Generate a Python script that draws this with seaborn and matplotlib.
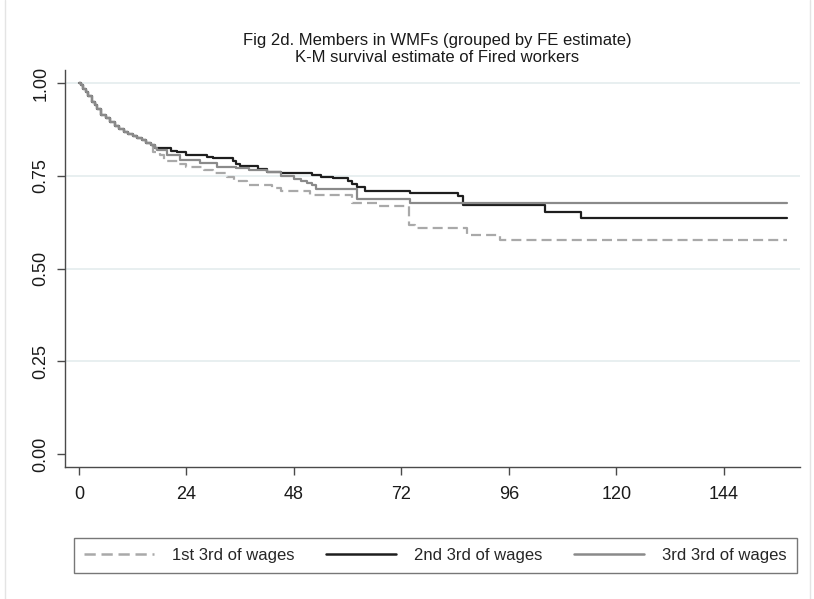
import numpy as np
import pandas as pd
import matplotlib
matplotlib.use("Agg")
import matplotlib.pyplot as plt
import seaborn as sns
from matplotlib.lines import Line2D

# Kaplan-Meier step estimates (months since firing, survival probability)
early_t = [0, 0.5, 1, 1.5, 2, 3, 3.5, 4, 5, 6, 7, 8, 9, 10, 11, 12, 13, 14, 15, 16]
early_s = [1.0, 0.995, 0.985, 0.975, 0.965, 0.95, 0.94, 0.93, 0.915, 0.905,
           0.895, 0.885, 0.875, 0.868, 0.862, 0.857, 0.852, 0.845, 0.838, 0.832]

t_first = early_t + [16.5, 18, 19, 22, 24, 28, 30, 33, 34.5, 37.5, 43, 45, 51.5,
                     61, 67, 73.7, 75, 86.6, 94, 158]
s_first = early_s + [0.815, 0.805, 0.79, 0.782, 0.774, 0.765, 0.757, 0.747, 0.735,
                     0.725, 0.718, 0.71, 0.698, 0.677, 0.668, 0.617, 0.609, 0.59,
                     0.577, 0.577]

t_second = early_t + [17, 20.5, 21.8, 24, 28.6, 30, 34.4, 35, 36, 40, 42, 45, 52,
                      54, 56.7, 60, 61, 62, 63.8, 74, 84.6, 85.7, 104, 112, 158]
s_second = early_s + [0.826, 0.818, 0.815, 0.806, 0.80, 0.797, 0.79, 0.782, 0.776,
                      0.767, 0.761, 0.757, 0.753, 0.747, 0.744, 0.737, 0.728,
                      0.72, 0.71, 0.703, 0.695, 0.672, 0.653, 0.637, 0.637]

t_third = early_t + [17, 17.5, 19.6, 22.5, 27, 30.8, 35, 38, 42, 45, 48, 49.5, 51,
                     52, 53, 62, 74, 158]
s_third = early_s + [0.826, 0.819, 0.806, 0.792, 0.783, 0.774, 0.771, 0.765, 0.761,
                     0.748, 0.74, 0.735, 0.73, 0.725, 0.713, 0.687, 0.677, 0.677]

groups = ["1st 3rd of wages", "2nd 3rd of wages", "3rd 3rd of wages"]
x_ticks = [0, 24, 48, 72, 96, 120, 144]
y_ticks = [0.00, 0.25, 0.50, 0.75, 1.00]

df = pd.concat([
    pd.DataFrame({"analysis_time": t_first, "survival": s_first, "group": groups[0]}),
    pd.DataFrame({"analysis_time": t_second, "survival": s_second, "group": groups[1]}),
    pd.DataFrame({"analysis_time": t_third, "survival": s_third, "group": groups[2]}),
], ignore_index=True)

sns.set_theme(style="white")
plt.rcParams["font.family"] = ["Liberation Sans", "DejaVu Sans"]

colors = {groups[0]: "#a9a9a9", groups[1]: "#1e1e1e", groups[2]: "#8a8a8a"}
dashes = {groups[0]: (4.5, 2.3), groups[1]: "", groups[2]: ""}

fig = plt.figure(figsize=(8.14, 5.99), dpi=100)
fig.patch.set_facecolor("white")
ax = fig.add_axes([65 / 814, 1 - 467 / 599, (800 - 65) / 814, (467 - 70) / 599])

sns.lineplot(data=df, x="analysis_time", y="survival", hue="group", style="group",
             palette=colors, dashes=dashes, estimator=None, sort=False,
             drawstyle="steps-post", linewidth=1.6, legend=False, ax=ax)

ax.set_xlim(-3.13, 161.0)
ax.set_ylim(-0.035, 1.035)
ax.set_xticks(x_ticks)
ax.set_xticklabels([str(v) for v in x_ticks])
ax.set_yticks(y_ticks)
ax.set_yticklabels([f"{v:.2f}" for v in y_ticks], rotation=90, va="center")
ax.set_xlabel("")
ax.set_ylabel("")

ax.yaxis.grid(True, color="#e6eeef", linewidth=1.3)
ax.get_ygridlines()[0].set_visible(False)
ax.set_axisbelow(True)

for side in ["top", "right"]:
    ax.spines[side].set_visible(False)
for side in ["left", "bottom"]:
    ax.spines[side].set_color("#4a4a4a")
    ax.spines[side].set_linewidth(1.0)

ax.tick_params(axis="both", which="major", direction="out", length=6, width=1.0,
               color="#4a4a4a", labelsize=13, labelcolor="#1a1a1a")
ax.tick_params(axis="x", pad=8, bottom=True)
ax.tick_params(axis="y", pad=5, left=True)

fig.text(437 / 814, 1 - 40 / 599, "Fig 2d. Members in WMFs (grouped by FE estimate)",
         ha="center", va="center", fontsize=12, color="#1a1a1a")
fig.text(437 / 814, 1 - 57 / 599, "K-M survival estimate of Fired workers",
         ha="center", va="center", fontsize=12, color="#1a1a1a")

handles = [
    Line2D([], [], color=colors[groups[0]], linewidth=1.8, linestyle=(0, (4.5, 2.3))),
    Line2D([], [], color=colors[groups[1]], linewidth=1.8, linestyle="-"),
    Line2D([], [], color=colors[groups[2]], linewidth=1.8, linestyle="-"),
]
leg = fig.legend(handles, groups, loc="center", ncol=3, mode="expand",
                 bbox_to_anchor=(74 / 814, 1 - 575 / 599, (797 - 74) / 814, 39 / 599),
                 frameon=True, fancybox=False, edgecolor="#555555", fontsize=12,
                 handlelength=4.2, handletextpad=1.1, borderaxespad=0.0, borderpad=0.6)
leg.get_frame().set_linewidth(1.0)

# faint outer frame of the graph region
fig.add_artist(Line2D([5 / 814, 5 / 814], [0, 1], color="#e4e4e4", linewidth=1.0,
                      transform=fig.transFigure))
fig.add_artist(Line2D([810 / 814, 810 / 814], [0, 1], color="#e4e4e4", linewidth=1.0,
                      transform=fig.transFigure))

fig.savefig("out.png", dpi=100)
